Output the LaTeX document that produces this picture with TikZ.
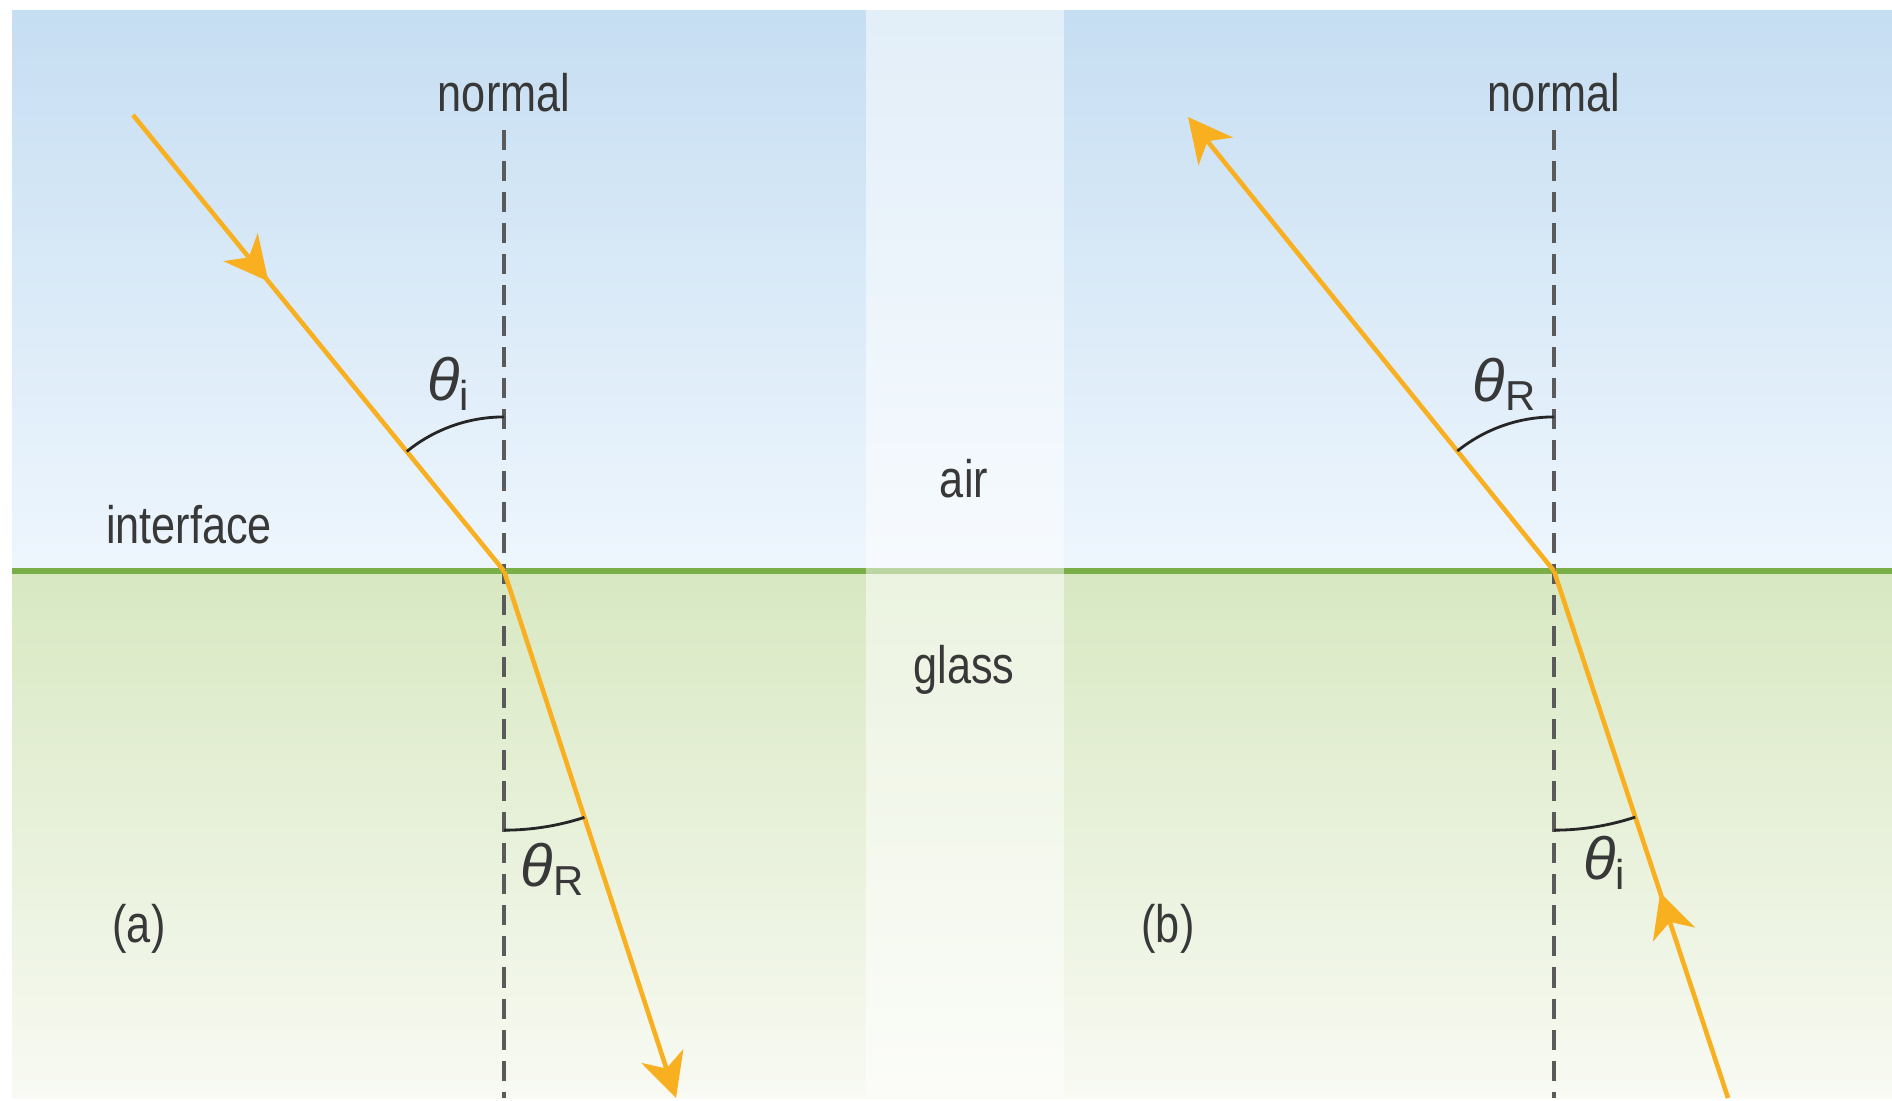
\documentclass[tikz,border=0pt]{standalone}
\usepackage{fontspec}
\setmainfont{Liberation Sans}
\newfontfamily\condfont[FakeStretch=0.82]{Liberation Sans}
\usetikzlibrary{arrows.meta, positioning, decorations.markings, angles}

\definecolor{skytop}{HTML}{C6DEF2}
\definecolor{skybot}{HTML}{EEF6FD}
\definecolor{glasstop}{HTML}{D8E8C2}
\definecolor{glassbot}{HTML}{F8FAF3}
\definecolor{edgegreen}{HTML}{7AAE48}
\definecolor{rayorange}{HTML}{F8B020}
\definecolor{normalgray}{HTML}{5A5A5A}
\definecolor{labelgray}{HTML}{383838}

\begin{document}
\begin{tikzpicture}[
  x=0.01cm, y=-0.01cm,
  rayline/.style={draw=rayorange, line width=1.3pt},
  midarrow/.style={rayline, postaction={decorate},
                   decoration={markings, mark=at position #1 with
                   {\arrow[rayorange]{Stealth[length=4.4mm, width=4.4mm, inset=1.3mm]}}}},
  endarrow/.style={rayline, -{Stealth[length=4.4mm, width=4.4mm, inset=1.3mm]}},
  normalline/.style={draw=normalgray, line width=1.1pt, dash pattern=on 0.2cm off 0.11cm},
  anglearc/.style={draw=black!85, line width=0.8pt},
  lbl/.style={text=labelgray, font=\condfont\fontsize{15}{15}\selectfont, inner sep=0pt},
  thlbl/.style={text=labelgray, font=\fontsize{17}{17}\selectfont, inner sep=0pt}
]
\useasboundingbox (0,0) rectangle (1892,1100);

% media
\fill[top color=skytop, bottom color=skybot] (12,10) rectangle (1892,571);
\fill[top color=glasstop, bottom color=glassbot] (12,571) rectangle (1892,1098);
\draw[edgegreen, line width=1.5pt] (12,571) -- (1892,571);
\fill[white, opacity=0.5] (866,10) rectangle (1064,1098);

% panel (a)
\coordinate (Oa) at (504,571);
\coordinate (topA) at (504,130);
\coordinate (botA) at (504,1098);
\coordinate (inA) at (133,115);
\coordinate (outA) at (676,1098);
\node[lbl] (normA) at (504,93) {normal};
\draw[normalline] (topA) -- (botA);
\draw[midarrow=0.365] (inA) -- (Oa);
\draw[endarrow] (Oa) -- (outA);
\pic[anglearc, angle radius=1.54cm] {angle=topA--Oa--inA};
\pic[anglearc, angle radius=2.59cm] {angle=botA--Oa--outA};
\node[thlbl] (thIa) at (449,384) {\textit{θ}\textsubscript{i}};
\node[thlbl] (thRa) at (553,869) {\textit{θ}\textsubscript{R}};
\node[lbl] (iface) at (189,525) {interface};
\node[lbl] (capA) at (139,929) {(a)};

% labels between panels
\node[lbl] (air) at (964,479) {air};
\node[lbl] (glass) at (964,670) {glass};

% panel (b)
\coordinate (Ob) at (1554,571);
\coordinate (topB) at (1554,130);
\coordinate (botB) at (1554,1098);
\coordinate (outB) at (1188,117);
\coordinate (inB) at (1728,1098);
\node[lbl] (normB) at (1554,93) {normal};
\draw[normalline] (topB) -- (botB);
\draw[midarrow=0.39] (inB) -- (Ob);
\draw[endarrow] (Ob) -- (outB);
\pic[anglearc, angle radius=1.54cm] {angle=topB--Ob--outB};
\pic[anglearc, angle radius=2.59cm] {angle=botB--Ob--inB};
\node[thlbl] (thRb) at (1505,384) {\textit{θ}\textsubscript{R}};
\node[thlbl] (thIb) at (1605,863) {\textit{θ}\textsubscript{i}};
\node[lbl] (capB) at (1168,929) {(b)};
\end{tikzpicture}
\end{document}
